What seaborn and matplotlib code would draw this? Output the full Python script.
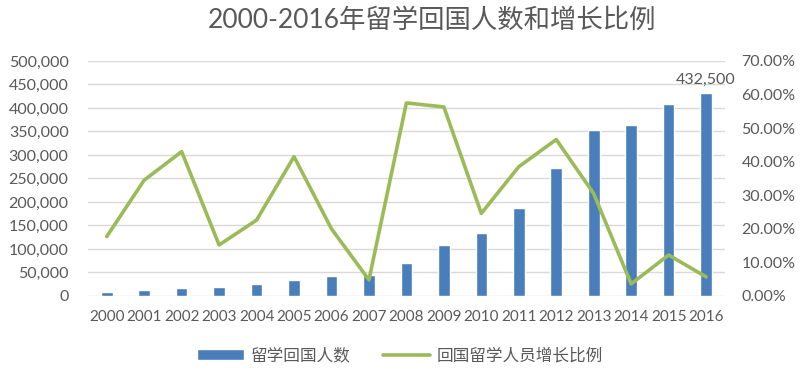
import numpy as np
import pandas as pd
import seaborn as sns
from matplotlib import pyplot as plt
from matplotlib.lines import Line2D
from matplotlib.patches import Patch

years = [str(y) for y in range(2000, 2017)]
returnees = [9121, 12243, 17945, 20152, 24726, 34987, 42000, 44000, 69300,
             108300, 134800, 186200, 272900, 353500, 364800, 409100, 432500]
growth = [17.7, 34.5, 43.0, 15.2, 22.6, 41.5, 20.0, 4.8, 57.5,
          56.3, 24.6, 38.5, 46.6, 30.5, 3.6, 12.2, 5.7]

title = '2000-2016年留学回国人数和增长比例'
bar_label = '留学回国人数'
line_label = '回国留学人员增长比例'

bar_color = '#4A7EBB'
line_color = '#9BBB59'
text_color = '#595959'

sns.set_theme(style='white')
plt.rcParams['font.family'] = ['Lato', 'Noto Sans CJK SC', 'DejaVu Sans']

df = pd.DataFrame({'year': years, 'returnees': returnees, 'growth': growth})

fig = plt.figure(figsize=(8, 3.74), dpi=100)
ax = fig.add_axes([0.11, 0.2086, 0.796, 0.6284])

sns.barplot(data=df, x='year', y='returnees', color=bar_color, width=0.31,
            saturation=1, ax=ax, zorder=3)
ax.set_ylim(0, 500000)
ax.set_xlim(-0.5, len(years) - 0.5)
ax.set_yticks(np.arange(0, 500001, 50000))
ax.set_yticklabels([f'{v:,}' for v in range(0, 500001, 50000)])
ax.grid(axis='y', color='#D9D9D9', linewidth=1, zorder=0)
ax.set_xlabel('')
ax.set_ylabel('')
ax.tick_params(axis='both', length=0, colors=text_color)
ax.tick_params(axis='x', pad=10, labelsize=11)
ax.tick_params(axis='y', pad=14, labelsize=11.5)
for s in ax.spines.values():
    s.set_visible(False)

# last bar value label
ax.text(len(years) - 1, returnees[-1] + 12000, f'{returnees[-1]:,}',
        ha='center', va='bottom', fontsize=11.5, color=text_color)

ax2 = ax.twinx()
sns.lineplot(x=np.arange(len(years)), y=growth, color=line_color,
             linewidth=2.6, ax=ax2)
ax2.set_ylim(0, 70)
ax2.set_yticks(np.arange(0, 71, 10))
ax2.set_yticklabels([f'{v:.2f}%' for v in range(0, 71, 10)])
ax2.tick_params(axis='y', length=0, labelsize=11.5, colors=text_color, pad=12)
for s in ax2.spines.values():
    s.set_visible(False)

fig.suptitle(title, x=0.54, y=0.98, fontsize=19, color=text_color)

handles = [Patch(facecolor=bar_color, label=bar_label),
           Line2D([0], [0], color=line_color, linewidth=2.6, label=line_label)]
fig.legend(handles=handles, loc='center', bbox_to_anchor=(0.5, 0.05), ncol=2,
           frameon=False, fontsize=12, labelcolor=text_color,
           handlelength=2.8, handleheight=0.6, columnspacing=2.0,
           handletextpad=0.4)

fig.savefig('out.png', dpi=100)
